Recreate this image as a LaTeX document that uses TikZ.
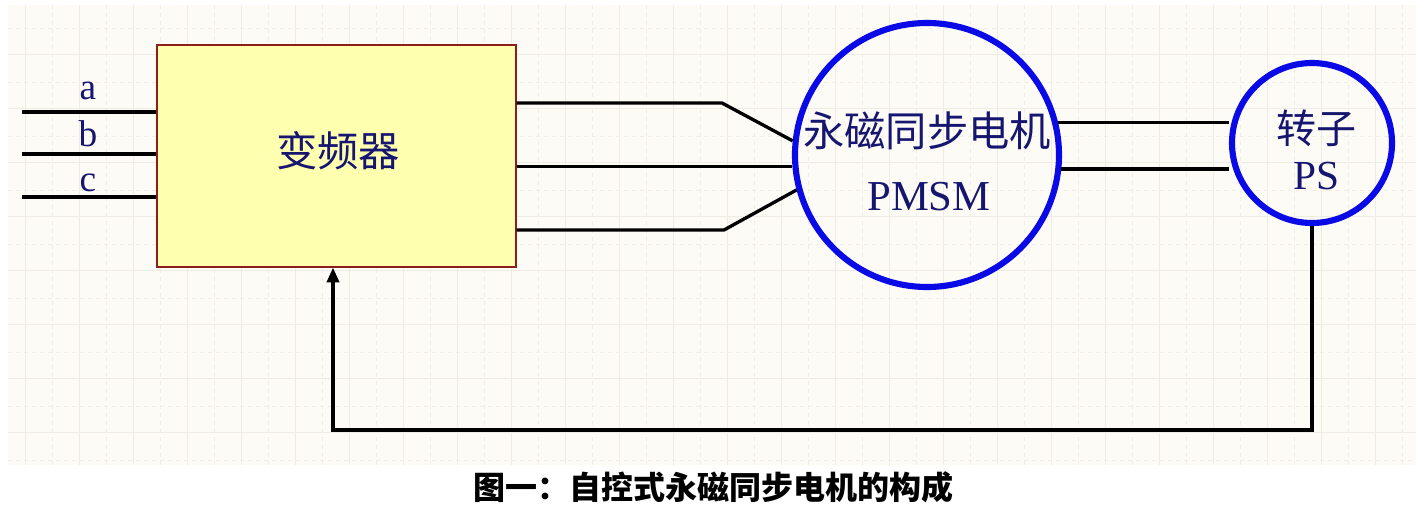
\documentclass[tikz,border=0pt]{standalone}
\usepackage{fontspec}
\setmainfont{Liberation Serif}
\newfontfamily\cjk{Noto Sans CJK SC}
\usetikzlibrary{arrows.meta,calc}
\definecolor{navy}{RGB}{22,22,112}
\definecolor{ringblue}{RGB}{10,10,230}
\definecolor{boxfill}{RGB}{255,255,176}
\definecolor{boxedge}{RGB}{140,30,30}
\definecolor{gridbg}{RGB}{253,251,246}
\definecolor{gridsolid}{RGB}{239,236,229}
\definecolor{griddash}{RGB}{241,238,231}
\tikzset{
  wire/.style={draw=black, line width=2.5pt},
  invbox/.style={draw=boxedge, line width=0.9pt, fill=boxfill, minimum width=269.25pt, minimum height=166.5pt, inner sep=0pt},
  ring/.style={circle, draw=ringblue, line width=4.6pt, inner sep=0pt},
  cjklbl/.style={text=navy, inner sep=0pt, font=\cjk\fontsize{31pt}{33pt}\selectfont},
  latlbl/.style={text=navy, inner sep=0pt, anchor=base},
}
\begin{document}
\begin{tikzpicture}[x=0.75pt,y=-0.75pt]
\useasboundingbox (0,0) rectangle (1427,520);
\fill[white] (0,0) rectangle (1427,520);
% grid background
\fill[gridbg] (8,5) rectangle (1416,465);
\foreach \gx in {25,79,...,1416} \draw[gridsolid, line width=0.7pt] (\gx,5) -- (\gx,465);
\foreach \gx in {52,106,...,1416} \draw[griddash, line width=0.7pt, dash pattern=on 3pt off 3pt] (\gx,5) -- (\gx,465);
\foreach \gy in {54,108,...,465} \draw[gridsolid, line width=0.7pt] (8,\gy) -- (1416,\gy);
\foreach \gy in {28,82,...,465} \draw[griddash, line width=0.7pt, dash pattern=on 3pt off 3pt] (8,\gy) -- (1416,\gy);

% inverter box
\node (inv) [invbox] at (336.5,156) {};
\node (invtxt) [cjklbl] at (338,151) {变频器};

% motor and rotor sensor
\node (pmsm) [ring, minimum size=198pt] at (927,155) {};
\node (pmsmcn) [cjklbl] at (927,131) {永磁同步电机};
\node (pmsmen) [latlbl, font=\fontsize{32pt}{34pt}\selectfont] at (929,211) {PMSM};
\node (rotor) [ring, minimum size=120pt] at (1312,143) {};
\node (rotorcn) [cjklbl, font=\cjk\fontsize{30pt}{32pt}\selectfont] at (1316,128) {转子};
\node (rotoren) [latlbl, font=\fontsize{31pt}{33pt}\selectfont] at (1316,190) {PS};

% three-phase inputs
\coordinate (ia) at (22,112);
\coordinate (ib) at (22,154);
\coordinate (ic) at (22,197);
\draw[wire] (ia) -- (ia -| inv.west);
\draw[wire] (ib) -- (ib -| inv.west);
\draw[wire] (ic) -- (ic -| inv.west);
\node (la) [latlbl, font=\fontsize{28pt}{30pt}\selectfont] at (88,100) {a};
\node (lb) [latlbl, font=\fontsize{28pt}{30pt}\selectfont] at (88,147) {b};
\node (lc) [latlbl, font=\fontsize{28pt}{30pt}\selectfont] at (88,192) {c};

% inverter to motor
\coordinate (ka) at (722,103);
\coordinate (kc) at (724,230);
\draw[wire] (inv.east |- ka) -- (ka) -- (pmsm.174.8);
\draw[wire] (inv.east |- pmsm.185) -- (pmsm.185);
\draw[wire] (inv.east |- kc) -- (kc) -- (pmsm.195);

% motor to rotor sensor
\draw[wire] (pmsm.14.5) -- (pmsm.14.5 -| rotor.west);
\draw[wire] (pmsm.354.8) -- (pmsm.354.8 -| rotor.west);

% feedback
\coordinate (fb) at (333,430);
\draw[wire, -{Triangle[width=9pt,length=11pt]}] (rotor.south) |- (fb) -- (fb |- inv.south);

% caption
\node (cap) [inner sep=0pt, font=\cjk\bfseries\fontsize{24pt}{26pt}\selectfont] at (713,487) {图一：自控式永磁同步电机的构成};
\end{tikzpicture}
\end{document}
